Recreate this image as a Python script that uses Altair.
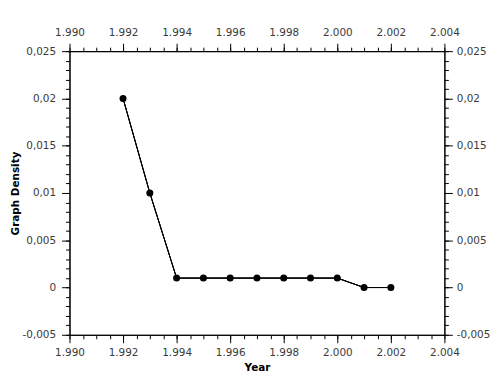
import altair as alt
import pandas as pd

years = [1992, 1993, 1994, 1995, 1996, 1997, 1998, 1999, 2000, 2001, 2002]
density = [0.02, 0.01, 0.001, 0.001, 0.001, 0.001, 0.001, 0.001, 0.001, 0.0, 0.0]

x_major = [1990, 1992, 1994, 1996, 1998, 2000, 2002, 2004]
x_minor = [round(1990 + 0.5 * i, 1) for i in range(29)]
y_major = [-0.005, 0, 0.005, 0.01, 0.015, 0.02, 0.025]
y_minor = [round(-0.005 + 0.001 * i, 3) for i in range(31)]

df = pd.DataFrame({"year": years, "density": density})

XL = "replace(format(datum.value, ',d'), ',', '.')"
YL = "replace(toString(datum.value), '.', ',')"
FONT = "DejaVu Sans"
LBL = "#3a3a3a"
FS = 10.5


def xaxis(orient, values, size, labels, title=None, pad=6):
    kw = dict(orient=orient, values=values, tickSize=size, labels=labels, grid=False,
              domainColor="black", tickColor="black", domainWidth=1, tickWidth=1)
    if labels:
        kw.update(labelExpr=XL, labelFont=FONT, labelFontSize=FS, labelColor=LBL,
                  labelPadding=pad, labelOverlap=False, labelFlush=False)
    if title:
        kw.update(title=title, titleFont=FONT, titleFontSize=FS, titleFontWeight="bold",
                  titleColor="black", titlePadding=4)
    return kw


def yaxis(orient, values, size, labels, title=None, pad=6):
    kw = dict(orient=orient, values=values, tickSize=size, labels=labels, grid=False,
              domainColor="black", tickColor="black", domainWidth=1, tickWidth=1)
    if labels:
        kw.update(labelExpr=YL, labelFont=FONT, labelFontSize=FS, labelColor=LBL,
                  labelPadding=pad, labelOverlap=False, labelFlush=False)
    if title:
        kw.update(title=title, titleFont=FONT, titleFontSize=FS, titleFontWeight="bold",
                  titleColor="black", titlePadding=2)
    return kw


xs = alt.Scale(domain=[1990, 2004], nice=False, zero=False)
ys = alt.Scale(domain=[-0.005, 0.025], nice=False, zero=False)

base = alt.Chart(df)

line = base.mark_line(color="black", strokeWidth=1).encode(
    x=alt.X("year:Q", scale=xs, axis=alt.Axis(**xaxis("bottom", x_major, 8, True, "Year", 5))),
    y=alt.Y("density:Q", scale=ys, axis=alt.Axis(**yaxis("left", y_major, 8, True, "Graph Density", 6))),
)

pts = base.mark_circle(color="black", size=50, opacity=1).encode(
    x=alt.X("year:Q", scale=xs, title=None, axis=alt.Axis(**xaxis("top", x_major, 8, True, None, 6))),
    y=alt.Y("density:Q", scale=ys, title=None, axis=alt.Axis(**yaxis("right", y_major, 8, True, None, 4))),
)

minor1 = base.mark_line(color="black", strokeWidth=1).encode(
    x=alt.X("year:Q", scale=xs, title=None, axis=alt.Axis(**xaxis("bottom", x_minor, 4, False))),
    y=alt.Y("density:Q", scale=ys, title=None, axis=alt.Axis(**yaxis("left", y_minor, 4, False))),
)

minor2 = base.mark_line(color="black", strokeWidth=1).encode(
    x=alt.X("year:Q", scale=xs, title=None, axis=alt.Axis(**xaxis("top", x_minor, 4, False))),
    y=alt.Y("density:Q", scale=ys, title=None, axis=alt.Axis(**yaxis("right", y_minor, 4, False))),
)

chart = (
    alt.layer(line, minor1, minor2, pts)
    .resolve_axis(x="independent", y="independent")
    .properties(
        width=378,
        height=286,
        autosize=alt.AutoSizeParams(type="none"),
        padding={"left": 62, "top": 42, "right": 50, "bottom": 38},
    )
    .configure_view(stroke=None)
    .configure(background="white")
)

chart.save("out.html", embed_options={"renderer": "svg", "actions": False})
